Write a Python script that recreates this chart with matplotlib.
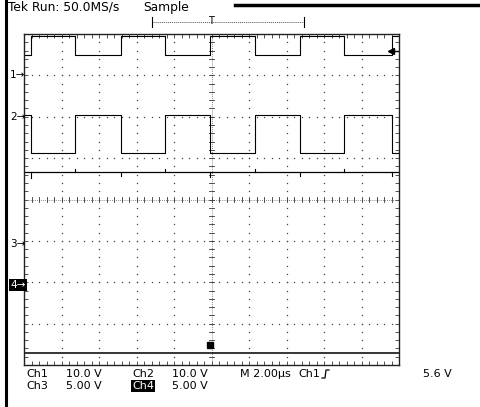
import numpy as np
import matplotlib.pyplot as plt
from matplotlib.lines import Line2D

# edge positions (divisions) shared by ch1 / ch2 / ch3 glitches
edges = [0.19, 1.36, 2.59, 3.76, 4.96, 6.16, 7.36, 8.53, 9.81]
ch1_levels = [3.49, 3.95]   # low, high  (starts low)
ch2_levels = [2.04, 1.12]   # high, low  (starts high)
ch3_level = 0.66
ch3_glitch = [-0.14, 0.08, -0.10, 0.07, -0.12, 0.08, -0.10, 0.07, -0.09]
ch4_level = -3.71
trig_level = 3.58

ch_markers = {"1": 75, "2": 117, "3": 244, "4": 285}   # pixel rows of the ground arrows

W, H = 480, 407
def fx(x):
    return x / W
def fy(y):
    return 1 - y / H

fig = plt.figure(figsize=(4.8, 4.07), dpi=100)
ax = fig.add_axes([fx(24), fy(365), 375 / W, 331 / H])
ax.set_xlim(0, 10)
ax.set_ylim(-4, 4)

# graticule dots
minor = np.arange(0, 10.01, 0.2)
minor_y = np.arange(-4, 4.01, 0.2)
for gx in range(1, 10):
    if gx == 5:
        continue
    ax.plot(np.full(len(minor_y), gx), minor_y, ls="none", marker="s", ms=0.9, color="#444", mew=0)
for gy in range(-3, 4):
    if gy == 0:
        continue
    ax.plot(minor, np.full(len(minor), gy), ls="none", marker="s", ms=0.9, color="#444", mew=0)

# centre cross with ticks
ax.axvline(5, color="#666", lw=0.6, ls=(0, (1, 1.5)))
ax.axhline(0, color="#666", lw=0.6, ls=(0, (1, 1.5)))
for t in minor_y:
    ax.plot([4.93, 5.07], [t, t], color="#333", lw=0.6)
for t in minor:
    ax.plot([t, t], [-0.06, 0.06], color="#333", lw=0.6)

ax.set_xticks(minor)
ax.set_yticks(minor_y)
ax.tick_params(direction="in", length=3, width=0.6, top=True, right=True,
               labelbottom=False, labelleft=False, color="#333")
for s in ax.spines.values():
    s.set_linewidth(1.0)
    s.set_color("#222")

# traces
xs = [0] + edges + [10]
y1 = [ch1_levels[i % 2] for i in range(len(edges) + 1)]
y1.append(y1[-1])
ax.step(xs, y1, where="post", color="black", lw=0.8)
y2 = [ch2_levels[i % 2] for i in range(len(edges) + 1)]
y2.append(y2[-1])
ax.step(xs, y2, where="post", color="black", lw=0.8)

ax.plot([0, 10], [ch3_level, ch3_level], color="black", lw=0.9)
for e, g in zip(edges, ch3_glitch):
    ax.plot([e, e], [ch3_level, ch3_level + g], color="black", lw=0.8)
ax.plot([0, 10], [ch4_level, ch4_level], color="black", lw=1.1)

# trigger level arrow at right edge
ax.plot([9.72, 9.98], [trig_level, trig_level], color="black", lw=1.0)
ax.plot([9.78], [trig_level], marker="<", ms=5, color="black")
# trigger position marker near bottom
ax.plot([4.97], [-3.52], marker="s", ms=5, color="black")

# channel ground markers
for ch, py in ch_markers.items():
    if ch == "4":
        fig.text(fx(10), fy(py), ch + "\u2192", fontsize=7.5, color="white", va="center", ha="left",
                 bbox=dict(facecolor="black", edgecolor="none", pad=0.8))
    else:
        fig.text(fx(10), fy(py), ch + "\u2192", fontsize=7.5, color="black", va="center", ha="left")

# header
fig.text(fx(8), fy(7), "Tek Run: 50.0MS/s", fontsize=8.8, va="center", ha="left")
fig.text(fx(143), fy(7), "Sample", fontsize=8.8, va="center", ha="left")
fig.add_artist(Line2D([fx(152), fx(304)], [fy(22), fy(22)], color="#555", lw=0.7, ls=(0, (1, 1))))
fig.add_artist(Line2D([fx(152), fx(152)], [fy(17), fy(27)], color="black", lw=0.8))
fig.add_artist(Line2D([fx(304), fx(304)], [fy(17), fy(27)], color="black", lw=0.8))
fig.text(fx(211), fy(21), "T", fontsize=7, va="center", ha="center")

# borders
fig.add_artist(Line2D([fx(6), fx(6)], [0, 1], color="black", lw=2.2))
fig.add_artist(Line2D([fx(235), 1], [fy(5), fy(5)], color="black", lw=2.5))

# bottom readout
fs = 8
fig.text(fx(26), fy(374), "Ch1", fontsize=fs, va="center")
fig.text(fx(66), fy(374), "10.0 V", fontsize=fs, va="center")
fig.text(fx(132), fy(374), "Ch2", fontsize=fs, va="center")
fig.text(fx(172), fy(374), "10.0 V", fontsize=fs, va="center")
fig.text(fx(240), fy(374), "M 2.00\u00b5s", fontsize=fs, va="center")
fig.text(fx(298), fy(374), "Ch1", fontsize=fs, va="center")
fig.add_artist(Line2D([fx(322), fx(325), fx(326), fx(329)],
                      [fy(378), fy(378), fy(370), fy(370)], color="black", lw=0.9))
fig.text(fx(423), fy(374), "5.6 V", fontsize=fs, va="center")
fig.text(fx(26), fy(386), "Ch3", fontsize=fs, va="center")
fig.text(fx(66), fy(386), "5.00 V", fontsize=fs, va="center")
fig.text(fx(132), fy(386), "Ch4", fontsize=fs, va="center", color="white",
         bbox=dict(facecolor="black", edgecolor="none", pad=0.6))
fig.text(fx(172), fy(386), "5.00 V", fontsize=fs, va="center")

fig.savefig("out.png", dpi=100)
